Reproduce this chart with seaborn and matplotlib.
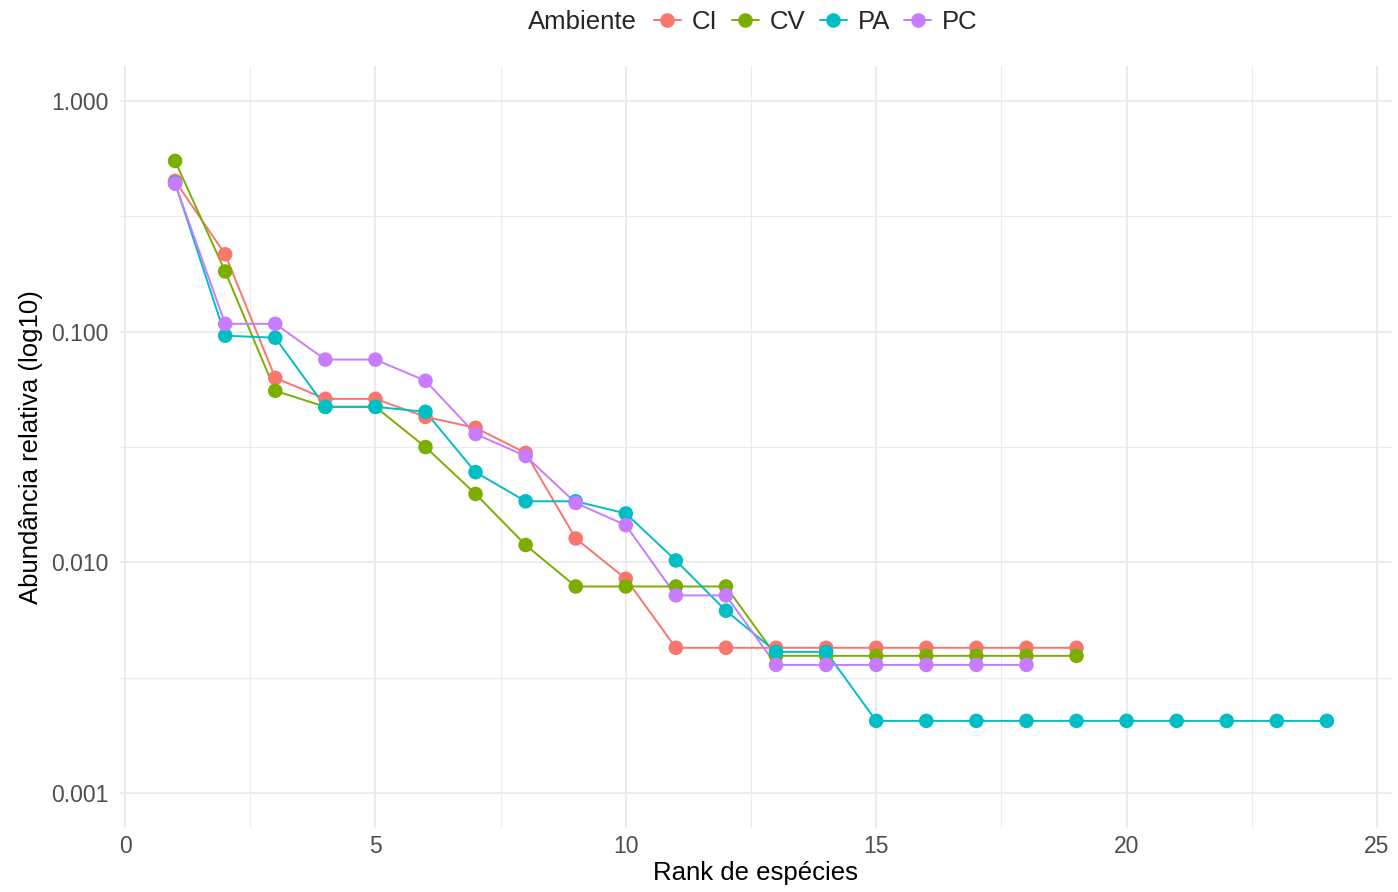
import numpy as np
import pandas as pd
import matplotlib
matplotlib.use("Agg")
import matplotlib.pyplot as plt
from matplotlib.lines import Line2D
from matplotlib.ticker import FixedLocator, FuncFormatter
import seaborn as sns

sns.set_theme(style="white")
plt.rcParams['font.family'] = ['Liberation Sans', 'DejaVu Sans']

# ---- data ----
groups = ["CI", "CV", "PA", "PC"]
ci_vals = [0.449, 0.216, 0.063, 0.0511, 0.0511, 0.0427, 0.0383, 0.0298, 0.0127, 0.0085,
           0.00427, 0.00427, 0.00427, 0.00427, 0.00427, 0.00427, 0.00427, 0.00427, 0.00427]
cv_vals = [0.548, 0.182, 0.0554, 0.0472, 0.0472, 0.0316, 0.0198, 0.0119, 0.00787, 0.00787,
           0.00787, 0.00787, 0.00394, 0.00394, 0.00394, 0.00394, 0.00394, 0.00394, 0.00394]
pa_vals = [0.44, 0.096, 0.094, 0.0472, 0.0472, 0.0449, 0.0246, 0.0184, 0.0184, 0.0163,
           0.0102, 0.00618, 0.0041, 0.0041, 0.00206, 0.00206, 0.00206, 0.00206, 0.00206,
           0.00206, 0.00206, 0.00206, 0.00206, 0.00206]
pc_vals = [0.437, 0.108, 0.108, 0.0756, 0.0756, 0.0612, 0.036, 0.0289, 0.0181, 0.0145,
           0.0072, 0.0072, 0.0036, 0.0036, 0.0036, 0.0036, 0.0036, 0.0036]
colors = ["#F8766D", "#7CAE00", "#00BFC4", "#C77CFF"]
x_ticks = [0, 5, 10, 15, 20, 25]
y_ticks = [0.001, 0.01, 0.1, 1.0]

frames = []
for g, vals in zip(groups, [ci_vals, cv_vals, pa_vals, pc_vals]):
    frames.append(pd.DataFrame({"Ambiente": g, "Rank": np.arange(1, len(vals) + 1), "Abund": vals}))
df = pd.concat(frames, ignore_index=True)
palette = dict(zip(groups, colors))

W, H = 1398, 892
fig = plt.figure(figsize=(W / 100, H / 100), dpi=100)
ax = fig.add_axes([120 / W, 1 - 828 / H, (1392 - 120) / W, (828 - 66) / H])

sns.lineplot(data=df, x="Rank", y="Abund", hue="Ambiente", palette=palette,
             hue_order=groups, linewidth=1.4, legend=False, ax=ax, zorder=3)
sns.scatterplot(data=df, x="Rank", y="Abund", hue="Ambiente", palette=palette,
                hue_order=groups, s=110, edgecolor="none", legend=False, ax=ax, zorder=4)

ax.set_yscale("log")
ax.set_ylim(10 ** -3.15, 10 ** 0.15)
ax.set_xlim(-0.1, 25.3)
ax.yaxis.set_major_locator(FixedLocator(y_ticks))
ax.yaxis.set_minor_locator(FixedLocator([10 ** -2.5, 10 ** -1.5, 10 ** -0.5]))
ax.yaxis.set_major_formatter(FuncFormatter(lambda v, p: f"{v:.3f}"))
ax.yaxis.set_minor_formatter(FuncFormatter(lambda v, p: ""))
ax.xaxis.set_major_locator(FixedLocator(x_ticks))
ax.xaxis.set_minor_locator(FixedLocator([2.5, 7.5, 12.5, 17.5, 22.5]))

ax.grid(True, which="major", color="#EBEBEB", linewidth=1.3)
ax.grid(True, which="minor", color="#EBEBEB", linewidth=0.8)
ax.set_axisbelow(True)
for s in ax.spines.values():
    s.set_visible(False)
ax.tick_params(axis="both", which="both", length=0, labelsize=16.5, labelcolor="#4D4D4D")
ax.tick_params(axis="y", pad=8)
ax.tick_params(axis="x", pad=5)
ax.set_xlabel("Rank de espécies", fontsize=18.5, color="black", labelpad=2)
ax.set_ylabel("Abundância relativa (log10)", fontsize=18.5, color="black", labelpad=6)

fig.text(528 / W, 1 - 22 / H, "Ambiente", fontsize=18.5, va="center", ha="left")
handles = [Line2D([0], [0], color=c, marker="o", markersize=10.5, linewidth=1.4,
                  markeredgecolor="none") for c in colors]
fig.legend(handles, groups, loc="center left", bbox_to_anchor=(654 / W, 1 - 22 / H),
           ncol=4, frameon=False, fontsize=18.5, handlelength=1.05, handletextpad=0.43,
           columnspacing=0.55, borderaxespad=0, borderpad=0)

fig.savefig("out.png", dpi=100)
